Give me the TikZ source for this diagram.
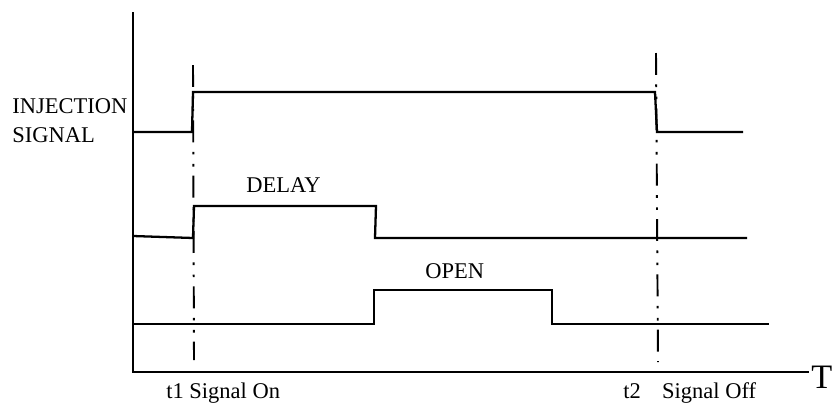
\documentclass[tikz,border=0pt]{standalone}
\usepackage{fontspec}
\setmainfont{Liberation Serif}

\begin{document}
\begin{tikzpicture}[
	x=0.02cm, y=-0.02cm,
	axisline/.style={line width=1.6pt},
	signal/.style={line width=1.3pt, line join=miter},
	timeline/.style={line width=1.1pt, dash pattern=on 12.5pt off 5.4pt on 1.5pt off 5.4pt on 1.5pt off 5.2pt},
	sigtext/.style={inner sep=0pt, anchor=base west, font=\fontsize{12.8}{15}\selectfont}
	]
	\useasboundingbox (0,0) rectangle (833,403);
	
	% Axes
	\coordinate (ytop) at (133,12);
	\coordinate (origin) at (133,372);
	\coordinate (xend) at (809,372);
	\draw[axisline] (ytop) -- (origin) -- (xend);
	\node[sigtext, font=\fontsize{19.5}{24}\selectfont] (tname) at (811,388) {T};
	
	% Time markers
	\draw[timeline] (193,65) -- (194,360);
	\draw[timeline] (656,53) -- (658,362);
	
	% Signals
	\draw[signal] (133,132) -- (192,132) -- (193,92) -- (655,92) -- (657,132) -- (743,132);
	\draw[signal] (133,236) -- (193,238) -- (194,206) -- (376,206) -- (375,238) -- (747,238);
	\draw[signal] (133,324) -- (374,324) -- (374,290) -- (552,290) -- (552,324) -- (769,324);
	
	% Labels
	\node[sigtext] (injname) at (12,113) {INJECTION};
	\node[sigtext] (signame) at (12,142) {SIGNAL};
	\node[sigtext] (delayname) at (246,192) {DELAY};
	\node[sigtext] (openname) at (425,278) {OPEN};
	\node[sigtext] (tonname) at (166,398) {t1 Signal On};
	\node[sigtext] (toffname) at (623,398) {t2\hspace{0.95em}Signal Off};
	
\end{tikzpicture}
\end{document}
